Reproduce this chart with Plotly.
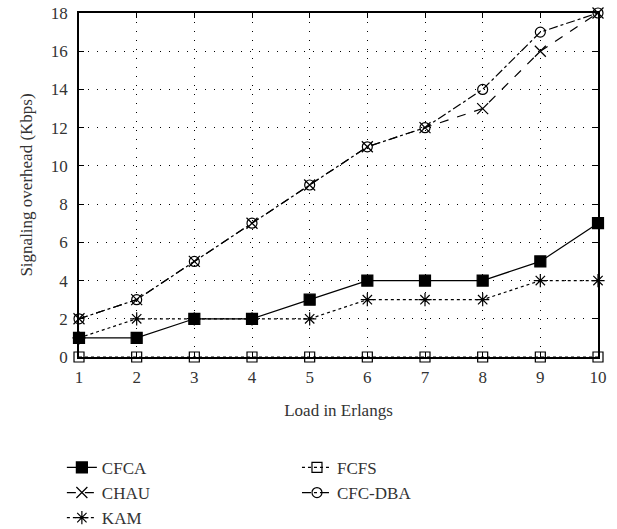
import plotly.graph_objects as go

load = [1, 2, 3, 4, 5, 6, 7, 8, 9, 10]
cfca = [1, 1, 2, 2, 3, 4, 4, 4, 5, 7]
chau = [2, 3, 5, 7, 9, 11, 12, 13, 16, 18]
kam = [1, 2, 2, 2, 2, 3, 3, 3, 4, 4]
fcfs = [0, 0, 0, 0, 0, 0, 0, 0, 0, 0]
cfcdba = [2, 3, 5, 7, 9, 11, 12, 14, 17, 18]
y_ticks = [0, 2, 4, 6, 8, 10, 12, 14, 16, 18]

FONT = "Liberation Serif"
TXT = "#333333"
FS = 17

fig = go.Figure()

def add(name, y, dash, symbol, size, legend):
    fig.add_trace(go.Scatter(
        x=load, y=y, name=name, mode="lines+markers",
        line=dict(color="black", width=1.2, dash=dash),
        marker=dict(symbol=symbol, size=size, color="black",
                    line=dict(color="black", width=1.2)),
        cliponaxis=False, legend=legend,
    ))

add("FCFS", fcfs, "dot", "square-open", 10, "legend2")
add("KAM", kam, "dot", "asterisk-open", 11, "legend")
add("CFCA", cfca, "solid", "square", 11, "legend")
add("CHAU", chau, "dash", "x-thin-open", 11, "legend")
add("CFC-DBA", cfcdba, "dashdot", "circle-open", 10, "legend2")

axis_common = dict(
    showline=True, linecolor="black", linewidth=1.5, mirror="ticks",
    ticks="inside", ticklen=5, tickcolor="black",
    showgrid=True, gridcolor="black", gridwidth=1, griddash="1px,8px",
    zeroline=False, automargin=False,
    tickfont=dict(family=FONT, size=FS, color=TXT),
)

fig.update_xaxes(range=[1, 10], tickvals=load, ticklabelstandoff=4, **axis_common,
                 title=dict(text="Load in Erlangs", font=dict(family=FONT, size=FS, color=TXT), standoff=18))
fig.update_yaxes(range=[0, 18], tickvals=y_ticks, ticklabelstandoff=6, **axis_common,
                 title=dict(text="Signaling overhead (Kbps)", font=dict(family=FONT, size=FS, color=TXT), standoff=14))

leg_common = dict(font=dict(family=FONT, size=FS, color=TXT), bgcolor="rgba(0,0,0,0)",
                  yanchor="top", xanchor="left", tracegroupgap=0, itemwidth=30)

fig.update_layout(
    width=617, height=529,
    margin=dict(l=79, r=19, t=13, b=172, autoexpand=False),
    plot_bgcolor="white", paper_bgcolor="white",
    font=dict(family=FONT, color=TXT),
    legend=dict(x=-0.033, y=-0.27, traceorder="normal", **leg_common),
    legend2=dict(x=0.42, y=-0.27, traceorder="normal", **leg_common),
)

order = {"CFCA": 1, "CHAU": 2, "KAM": 3, "FCFS": 1, "CFC-DBA": 2}
for tr in fig.data:
    tr.legendrank = order[tr.name]

fig.write_html("out.html", config={"displayModeBar": False},
               post_script="document.body.style.margin='0';")
